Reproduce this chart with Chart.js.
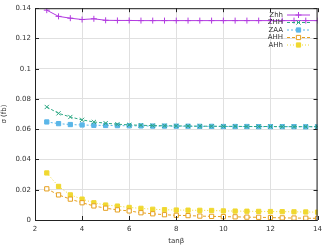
<!DOCTYPE html>
<html>
<head>
<meta charset="utf-8">
<script src="https://cdn.jsdelivr.net/npm/chart.js@4/dist/chart.umd.min.js"></script>
<style>
  html, body { margin: 0; padding: 0; background: #fff; }
  #wrap { width: 327px; height: 245px; }
</style>
</head>
<body>
<div id="wrap"><canvas id="xsec"></canvas></div>
<script>
const tanBeta = [2.5, 3, 3.5, 4, 4.5, 5, 5.5, 6, 6.5, 7, 7.5, 8, 8.5, 9, 9.5, 10, 10.5, 11, 11.5, 12, 12.5, 13, 13.5, 14];
const Zhh = [0.1387, 0.1346, 0.1334, 0.1325, 0.1330, 0.1320, 0.1319, 0.1319, 0.1318, 0.1318, 0.1318, 0.1318, 0.1318, 0.1318, 0.1318, 0.1318, 0.1318, 0.1318, 0.1318, 0.1318, 0.1318, 0.1318, 0.1318, 0.1318];
const ZHH = [0.0747, 0.0705, 0.0681, 0.0662, 0.0648, 0.0640, 0.0633, 0.0629, 0.0626, 0.0624, 0.0623, 0.0622, 0.0621, 0.0620, 0.0620, 0.0619, 0.0619, 0.0618, 0.0618, 0.0618, 0.0617, 0.0617, 0.0617, 0.0617];
const ZAA = [0.0648, 0.0637, 0.0631, 0.0628, 0.0626, 0.0625, 0.0624, 0.0623, 0.0622, 0.0621, 0.0621, 0.0620, 0.0620, 0.0619, 0.0619, 0.0618, 0.0618, 0.0618, 0.0617, 0.0617, 0.0617, 0.0617, 0.0616, 0.0616];
const AHH = [0.0206, 0.0166, 0.0138, 0.0114, 0.0093, 0.0078, 0.0067, 0.0060, 0.0048, 0.0041, 0.0035, 0.0031, 0.0029, 0.0026, 0.0024, 0.0022, 0.0021, 0.0019, 0.0018, 0.0016, 0.0014, 0.0013, 0.0012, 0.0011];
const AHh = [0.0311, 0.0222, 0.0166, 0.0138, 0.0114, 0.0099, 0.0092, 0.0083, 0.0077, 0.0071, 0.0068, 0.0066, 0.0065, 0.0064, 0.0063, 0.0060, 0.0059, 0.0058, 0.0057, 0.0056, 0.0055, 0.0054, 0.0053, 0.0052];
const yTicks = [0, 0.02, 0.04, 0.06, 0.08, 0.1, 0.12, 0.14];
const xTicks = [2, 4, 6, 8, 10, 12, 14];

const pts = (ys) => tanBeta.map((x, i) => ({ x: x, y: ys[i] }));

function series(label, ys, color, style, fill, dash, r) {
  return {
    label: label,
    data: pts(ys),
    borderColor: color,
    backgroundColor: fill,
    pointStyle: style,
    pointRadius: r,
    pointBorderColor: color,
    pointBackgroundColor: fill,
    pointBorderWidth: 1,
    borderWidth: 1,
    borderDash: dash,
    tension: 0
  };
}

const datasets = [
  series('Zhh', Zhh, '#b23be0', 'cross', '#b23be0', [], 3),
  series('ZHH', ZHH, '#2ea884', 'crossRot', '#2ea884', [3, 2], 3),
  series('ZAA', ZAA, '#5ab6e8', 'rect', '#5ab6e8', [2, 2], 3),
  series('AHH', AHH, '#e6a020', 'rect', '#ffffff', [3, 2], 3),
  series('AHh', AHh, '#f0d830', 'rect', '#f0d830', [1, 2], 3)
];

// gnuplot style box, inward ticks, and key inside top right
const boxPlugin = {
  id: 'box',
  afterDatasetsDraw(chart) {
    const { ctx, chartArea: a, scales } = chart;
    ctx.save();
    ctx.strokeStyle = '#222';
    ctx.lineWidth = 1;
    ctx.strokeRect(a.left + 0.5, a.top + 0.5, a.right - a.left - 1, a.bottom - a.top);
    ctx.beginPath();
    xTicks.forEach(v => {
      const px = Math.round(scales.x.getPixelForValue(v)) + 0.5;
      ctx.moveTo(px, a.bottom); ctx.lineTo(px, a.bottom - 4);
      ctx.moveTo(px, a.top); ctx.lineTo(px, a.top + 4);
    });
    yTicks.forEach(v => {
      const py = Math.round(scales.y.getPixelForValue(v)) + 0.5;
      ctx.moveTo(a.left, py); ctx.lineTo(a.left + 4, py);
      ctx.moveTo(a.right, py); ctx.lineTo(a.right - 4, py);
    });
    ctx.stroke();

    // key
    ctx.font = '7px "DejaVu Sans", sans-serif';
    ctx.textAlign = 'right';
    ctx.textBaseline = 'middle';
    chart.data.datasets.forEach((ds, i) => {
      const y = 15 + i * 7.5;
      ctx.fillStyle = '#333';
      ctx.fillText(ds.label, 283, y);
      ctx.strokeStyle = ds.borderColor;
      ctx.setLineDash(ds.borderDash);
      ctx.beginPath();
      ctx.moveTo(287, y); ctx.lineTo(310, y);
      ctx.stroke();
      ctx.setLineDash([]);
      ctx.fillStyle = ds.pointBackgroundColor;
      ctx.strokeStyle = ds.pointBorderColor;
      Chart.helpers.drawPoint(ctx, {
        pointStyle: ds.pointStyle, radius: ds.pointRadius, borderWidth: 1
      }, 298.5, y);
    });
    ctx.restore();
  }
};

new Chart(document.getElementById('xsec'), {
  type: 'line',
  data: { datasets: datasets },
  options: {
    responsive: true,
    maintainAspectRatio: false,
    animation: false,
    devicePixelRatio: 1,
    layout: { padding: { left: 0, right: 8, top: 7, bottom: 0 } },
    plugins: { legend: { display: false }, tooltip: { enabled: false } },
    scales: {
      x: {
        type: 'linear',
        min: 2, max: 14,
        afterBuildTicks: (s) => { s.ticks = xTicks.map(v => ({ value: v })); },
        afterFit: (s) => { s.height = 25; },
        grid: { color: '#e0e0e0', tickLength: 0, drawTicks: false },
        border: { display: false },
        ticks: { color: '#333', font: { size: 7, family: 'DejaVu Sans' }, padding: 5, maxRotation: 0 },
        title: { display: true, text: 'tanβ', color: '#333', font: { size: 7, family: 'DejaVu Sans' }, padding: { top: 2, bottom: 0 } }
      },
      y: {
        min: 0, max: 0.14,
        afterBuildTicks: (s) => { s.ticks = yTicks.map(v => ({ value: v })); },
        afterFit: (s) => { s.width = 35; },
        grid: { color: '#e0e0e0', tickLength: 0, drawTicks: false },
        border: { display: false },
        ticks: {
          color: '#333', font: { size: 7, family: 'DejaVu Sans' }, padding: 4,
          callback: (v) => String(+Number(v).toFixed(2))
        },
        title: { display: true, text: 'σ (fb)', color: '#333', font: { size: 7, family: 'DejaVu Sans' }, padding: 0 }
      }
    }
  },
  plugins: [boxPlugin]
});
</script>
</body>
</html>
